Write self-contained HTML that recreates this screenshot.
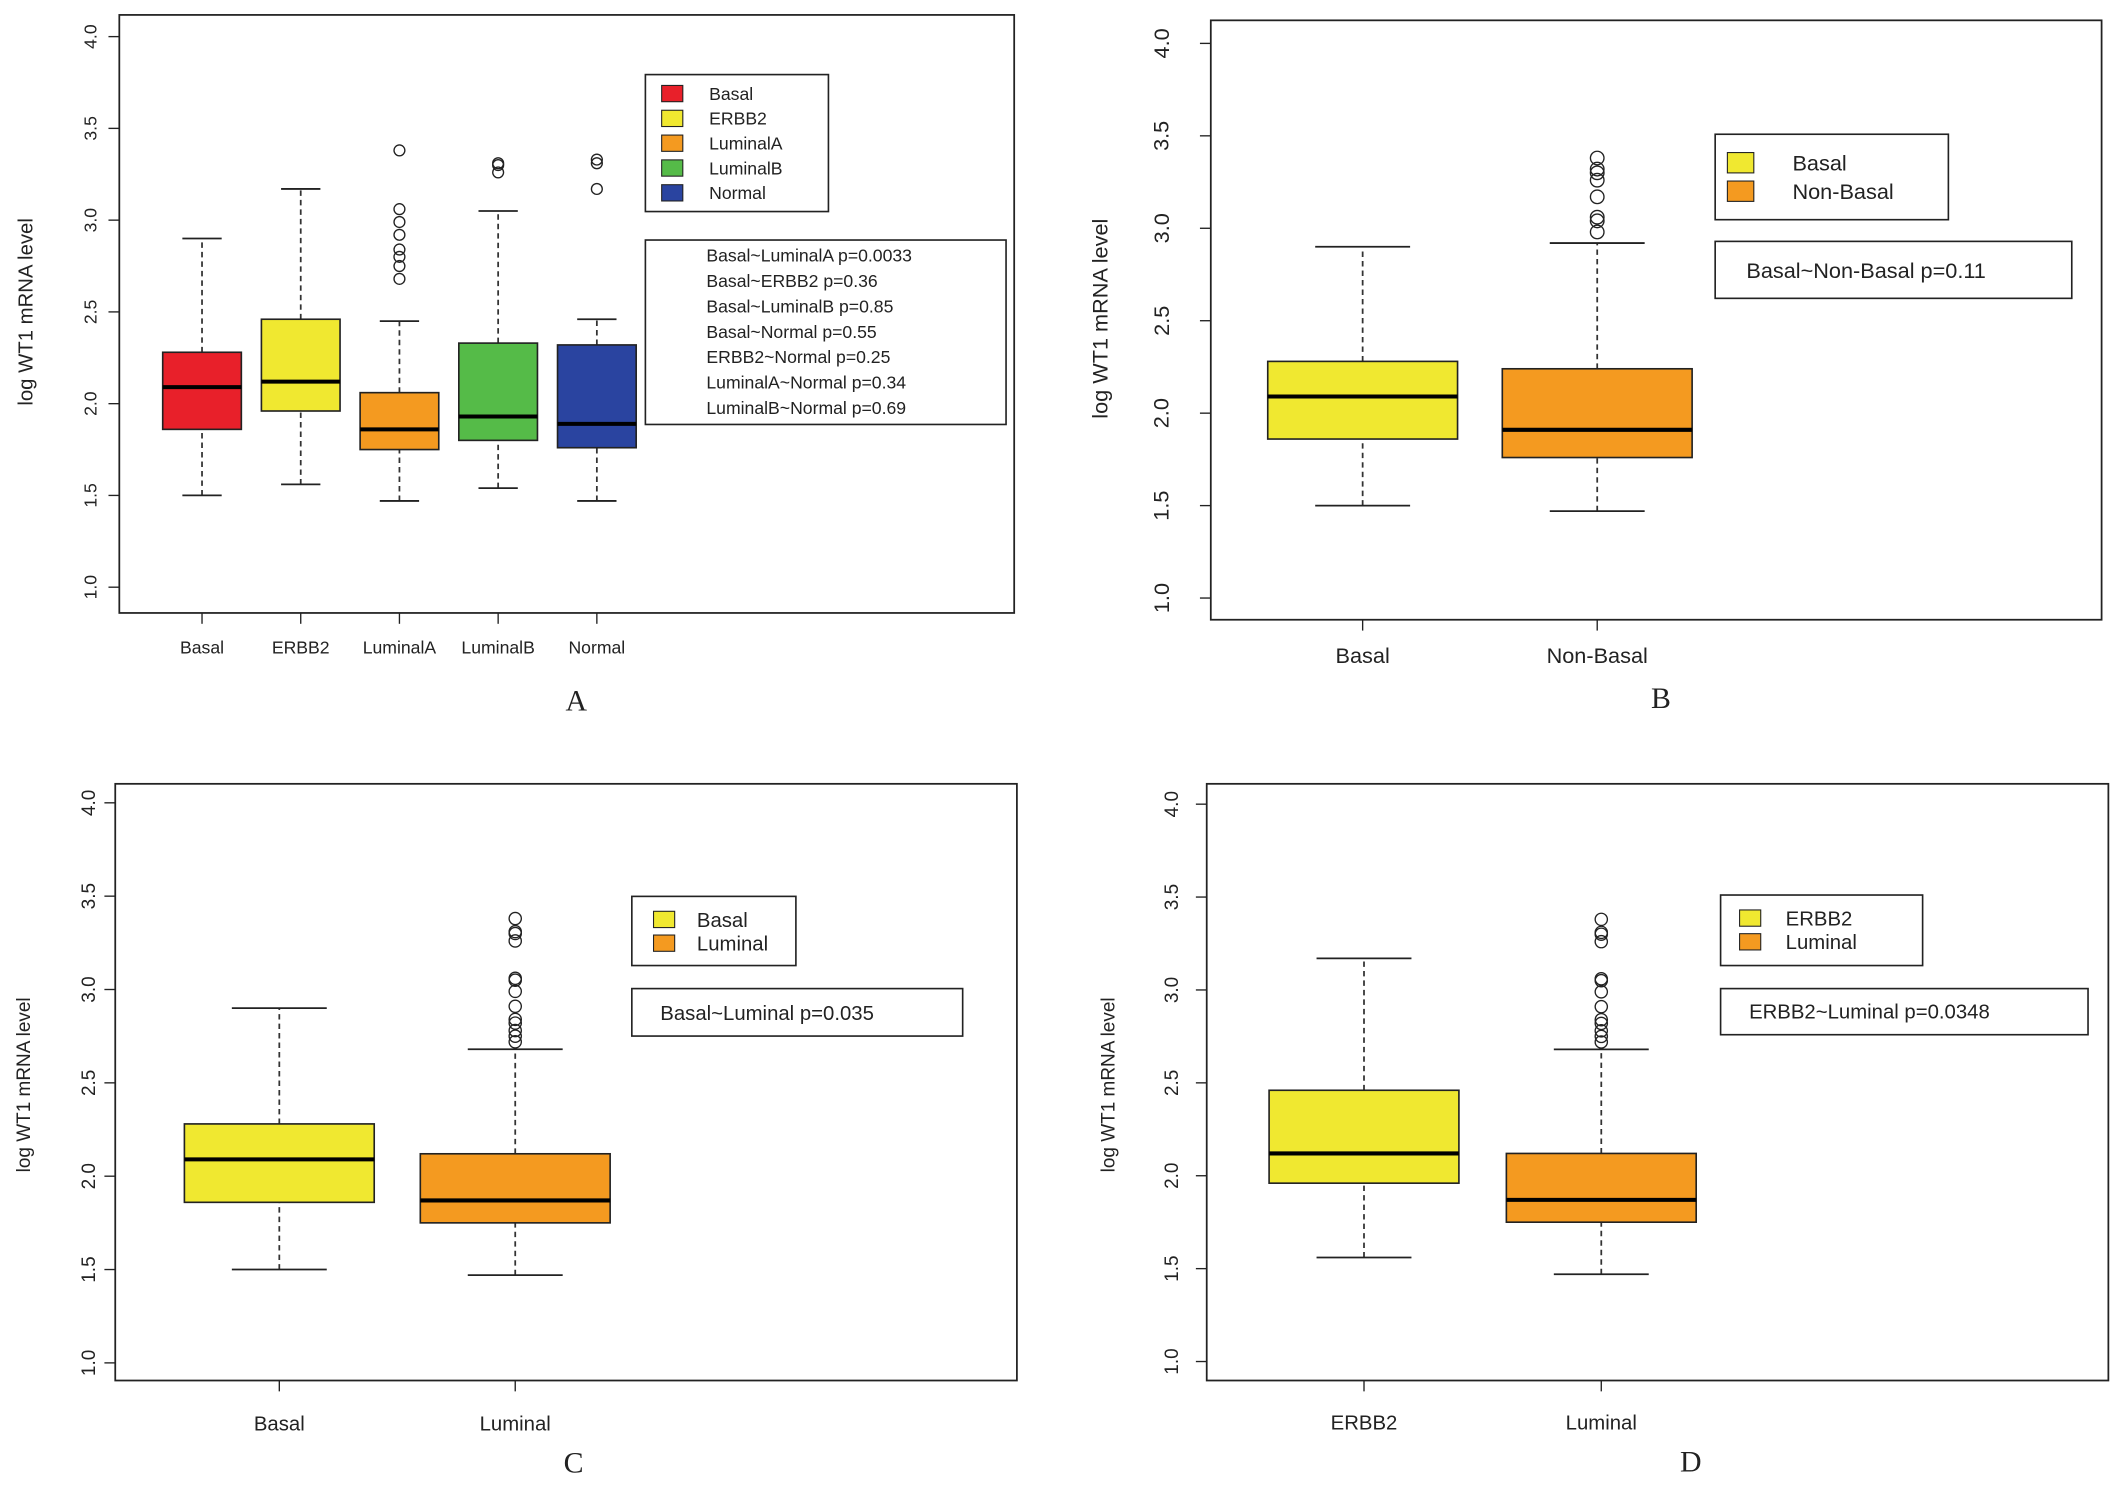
<!DOCTYPE html>
<html><head><meta charset="utf-8"><style>
html,body{margin:0;padding:0;background:#fff;}
svg{display:block;}
text{font-family:"Liberation Sans",sans-serif;fill:#222;}
</style></head>
<body>
<svg id="fig" width="2126" height="1489" viewBox="0 0 1568 1098" preserveAspectRatio="none" xmlns="http://www.w3.org/2000/svg"></svg>
<script>
// ---- Data ----
const catsA = ["Basal","ERBB2","LuminalA","LuminalB","Normal"];
const colorsA = ["#e8202a","#f0e830","#f49a20","#55bb48","#2a44a0"];
const statsA = [
 [1.50,1.86,2.09,2.28,2.90],
 [1.56,1.96,2.12,2.46,3.17],
 [1.47,1.75,1.86,2.06,2.45],
 [1.54,1.80,1.93,2.33,3.05],
 [1.47,1.76,1.89,2.32,2.46]];
const outA = [[],[],[2.68,2.75,2.80,2.84,2.92,2.99,3.06,3.38],[3.26,3.30,3.31],[3.17,3.31,3.33]];
const pA = ["Basal~LuminalA p=0.0033","Basal~ERBB2 p=0.36","Basal~LuminalB p=0.85","Basal~Normal p=0.55","ERBB2~Normal p=0.25","LuminalA~Normal p=0.34","LuminalB~Normal p=0.69"];

const catsB = ["Basal","Non-Basal"];
const statsB = [[1.50,1.86,2.09,2.28,2.90],[1.47,1.76,1.91,2.24,2.92]];
const outB = [[],[2.98,3.04,3.06,3.17,3.26,3.30,3.32,3.38]];

const catsC = ["Basal","Luminal"];
const statsC = [[1.50,1.86,2.09,2.28,2.90],[1.47,1.75,1.87,2.12,2.68]];
const outC = [[],[2.72,2.75,2.78,2.82,2.84,2.91,2.99,3.05,3.06,3.26,3.30,3.31,3.38]];

const catsD = ["ERBB2","Luminal"];
const statsD = [[1.56,1.96,2.12,2.46,3.17],[1.47,1.75,1.87,2.12,2.68]];
const outD = [[],[2.72,2.75,2.78,2.82,2.84,2.91,2.99,3.05,3.06,3.26,3.30,3.31,3.38]];

const yTicks = ["1.0","1.5","2.0","2.5","3.0","3.5","4.0"];

const svg = document.getElementById('fig');
const NS = "http://www.w3.org/2000/svg";
function mk(tag, attrs, parent){const e=document.createElementNS(NS,tag);for(const k in attrs)e.setAttribute(k,attrs[k]);(parent||svg).appendChild(e);return e;}

function panel(cfg){
  const g = mk('g',{});
  
  
  const y = v => cfg.y1 + (v-1)*(cfg.y4-cfg.y1)/3;
  const frame = mk('rect',{x:cfg.bx0,y:cfg.by0,width:cfg.bx1-cfg.bx0,height:cfg.by1-cfg.by0,fill:'none',stroke:'#222','stroke-width':1.3},g);
  
  
  // y ticks
  yTicks.forEach(t=>{
    const v=parseFloat(t), yy=y(v);
    mk('line',{x1:cfg.bx0-8,x2:cfg.bx0,y1:yy,y2:yy,stroke:'#222','stroke-width':1},g);
    const tx=mk('text',{x:cfg.tlx,y:yy,'font-size':cfg.tfs,'text-anchor':'middle',transform:`rotate(-90 ${cfg.tlx} ${yy})`},g);
    tx.textContent=t;
    
    
  });
  const yt=mk('text',{x:cfg.ytx,y:cfg.yty,'font-size':cfg.yfs,'text-anchor':'middle',transform:`rotate(-90 ${cfg.ytx} ${cfg.yty})`},g);
  yt.textContent='log WT1 mRNA level';
  
  
  // boxes
  cfg.cats.forEach((c,i)=>{
    const cx=cfg.cx0+i*cfg.dx, s=cfg.stats[i], w=cfg.bw, cap=w/2;
    const bg=mk('g',{},g);
    
    
    mk('line',{x1:cx,x2:cx,y1:y(s[0]),y2:y(s[1]),stroke:'#333','stroke-dasharray':'4,3','stroke-width':1.3},bg);
    mk('line',{x1:cx,x2:cx,y1:y(s[3]),y2:y(s[4]),stroke:'#333','stroke-dasharray':'4,3','stroke-width':1.3},bg);
    mk('line',{x1:cx-cap/2,x2:cx+cap/2,y1:y(s[0]),y2:y(s[0]),stroke:'#222','stroke-width':1.3},bg);
    mk('line',{x1:cx-cap/2,x2:cx+cap/2,y1:y(s[4]),y2:y(s[4]),stroke:'#222','stroke-width':1.3},bg);
    mk('rect',{x:cx-w/2,y:y(s[3]),width:w,height:y(s[1])-y(s[3]),fill:cfg.colors[i],stroke:'#222','stroke-width':1.2},bg);
    mk('line',{x1:cx-w/2,x2:cx+w/2,y1:y(s[2]),y2:y(s[2]),stroke:'#000','stroke-width':3},bg);
    cfg.out[i].forEach(o=>{
      const p=mk('circle',{cx:cx,cy:y(o),r:cfg.or,fill:'none',stroke:'#222','stroke-width':1},bg);
      
      
    });
    mk('line',{x1:cx,x2:cx,y1:cfg.by1,y2:cfg.by1+8,stroke:'#222','stroke-width':1},g);
    const lt=mk('text',{x:cx,y:cfg.cly,'font-size':cfg.cfs,'text-anchor':'middle'},g);
    lt.textContent=c;
    
    
  });
  // legend
  const L=cfg.leg;
  const lg=mk('g',{},g);
  
  
  mk('rect',{x:L.x,y:L.y,width:L.w,height:L.h,fill:'#fff',stroke:'#222','stroke-width':1.2},lg);
  cfg.cats.forEach((c,i)=>{
    const yy=L.y+L.first+i*L.step;
    mk('rect',{x:L.sx,y:yy-L.ss/2,width:L.ss*1.3,height:L.ss,fill:cfg.colors[i],stroke:'#222','stroke-width':0.8},lg);
    const t=mk('text',{x:L.tx,y:yy+L.fs*0.36,'font-size':L.fs},lg);
    t.textContent=c;
    
    
  });
  // p box
  const P=cfg.pb;
  const pg=mk('g',{},g);
  
  
  mk('rect',{x:P.x,y:P.y,width:P.w,height:P.h,fill:'#fff',stroke:'#222','stroke-width':1.2},pg);
  cfg.ptext.forEach((s,i)=>{
    const t=mk('text',{x:P.tx,y:P.y+P.first+i*P.step,'font-size':P.fs},pg);
    t.textContent=s;
  });
  const pl=mk('text',{x:cfg.lx,y:cfg.ly,'font-size':22,'text-anchor':'middle',style:'font-family:"Liberation Serif",serif'},g);
  pl.textContent=cfg.letter;
  
  
}

panel({letter:'A',bx0:88,bx1:748,by0:11,by1:452,y1:433,y4:27,tlx:71,tfs:13,ytx:24,yty:230,yfs:15,
  cats:catsA,colors:colorsA,stats:statsA,out:outA,cx0:149,dx:72.8,bw:58,or:4,cly:482,cfs:13,
  leg:{x:476,y:55,w:135,h:101,first:14,step:18.3,sx:488,ss:12,tx:523,fs:13},
  pb:{x:476,y:177,w:266,h:136,tx:521,first:16,step:18.7,fs:13},ptext:pA,lx:425,ly:524});
panel({letter:'B',bx0:893,bx1:1550,by0:15,by1:457,y1:441,y4:32,tlx:862,tfs:16,ytx:817,yty:235,yfs:16,
  cats:catsB,colors:["#f0e830","#f49a20"],stats:statsB,out:outB,cx0:1005,dx:173,bw:140,or:5,cly:489,cfs:16,
  leg:{x:1265,y:99,w:172,h:63,first:21,step:21,sx:1274,ss:15,tx:1322,fs:16},
  pb:{x:1265,y:178,w:263,h:42,tx:1288,first:27,step:0,fs:16},ptext:["Basal~Non-Basal p=0.11"],lx:1225,ly:522});
panel({letter:'C',bx0:85,bx1:750,by0:578,by1:1018,y1:1005,y4:592,tlx:70,tfs:14,ytx:22,yty:800,yfs:14,
  cats:catsC,colors:["#f0e830","#f49a20"],stats:statsC,out:outC,cx0:206,dx:174,bw:140,or:4.5,cly:1055,cfs:15,
  leg:{x:466,y:661,w:121,h:51,first:17,step:17.5,sx:482,ss:12,tx:514,fs:15},
  pb:{x:466,y:729,w:244,h:35,tx:487,first:23,step:0,fs:15},ptext:["Basal~Luminal  p=0.035"],lx:423,ly:1086});
panel({letter:'D',bx0:890,bx1:1555,by0:578,by1:1018,y1:1004,y4:593,tlx:869,tfs:14,ytx:822,yty:800,yfs:14,
  cats:catsD,colors:["#f0e830","#f49a20"],stats:statsD,out:outD,cx0:1006,dx:175,bw:140,or:4.5,cly:1054,cfs:15,
  leg:{x:1269,y:660,w:149,h:52,first:17,step:17.5,sx:1283,ss:12,tx:1317,fs:15},
  pb:{x:1269,y:729,w:271,h:34,tx:1290,first:22,step:0,fs:15},ptext:["ERBB2~Luminal  p=0.0348"],lx:1247,ly:1085});
</script>
</body></html>
